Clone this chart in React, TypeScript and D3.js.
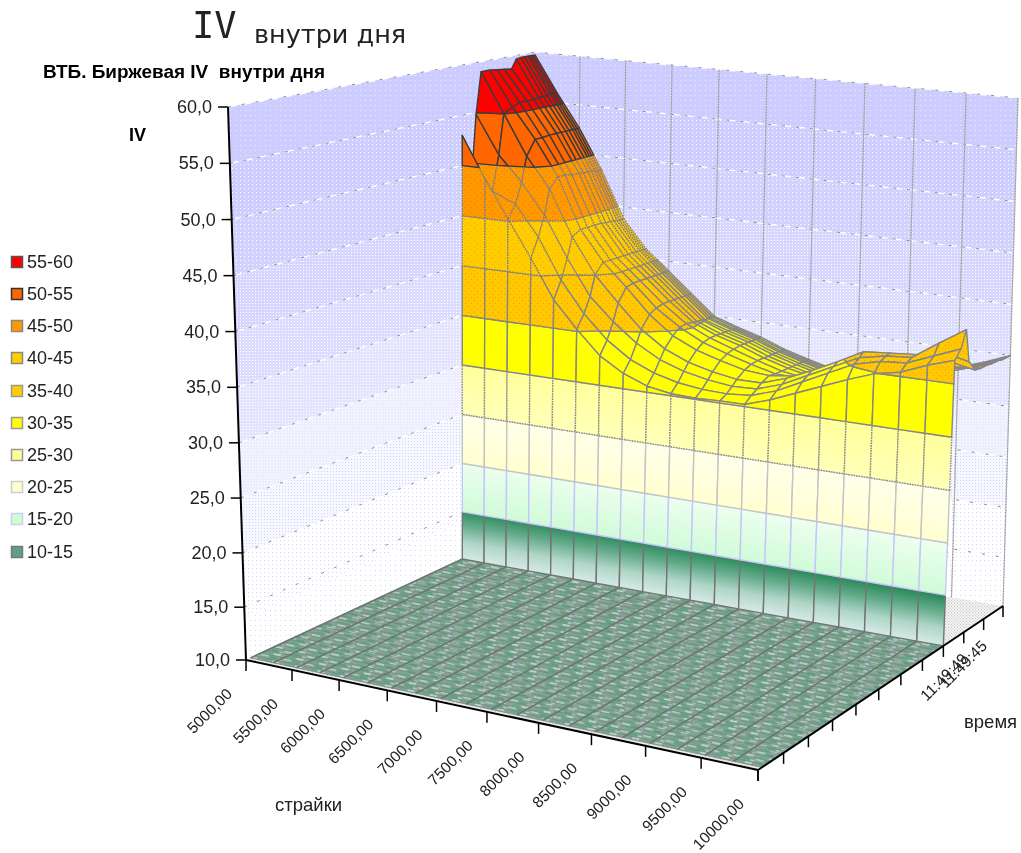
import React from "react";
import * as d3 from "d3";

// ---------- data ----------
const strikeTicks = [5000, 5500, 6000, 6500, 7000, 7500, 8000, 8500, 9000, 9500, 10000];
const meshStrikes = [5000, 5250, 5500, 5750, 6000, 6250, 6500, 6750, 7000, 7250, 7500, 7750, 8000, 8250, 8500, 8750, 9000, 9250, 9500, 9750, 10000];
const ivTicks = [10, 15, 20, 25, 30, 35, 40, 45, 50, 55, 60];
const timeTicks = [0, 1, 2, 3, 4, 5, 6, 7, 8, 9, 10, 11];
const timeLabels: [number, string][] = [[10, "11:49:49"], [11, "11:49:45"]];
const legendLabels = ["55-60", "50-55", "45-50", "40-45", "35-40", "30-35", "25-30", "20-25", "15-20", "10-15"];
const floorRows = [0.15, 0.3, 0.5, 0.7, 0.9, 1.1, 1.3, 1.5, 1.7, 1.9, 2.1, 2.3, 2.5, 2.7, 2.9, 3.1, 3.3, 3.5, 3.7, 3.9, 4.1, 4.3, 4.5, 4.7, 4.9, 5.1, 5.3, 5.5, 5.7, 5.9, 6.1, 6.3, 6.5, 6.7, 6.9, 7.1, 7.3, 7.5, 7.7, 8];

const surfaceTimes = [8, 8.3, 8.55, 8.75, 9.1, 9.4, 9.7, 10, 10.2, 10.4, 10.55, 10.7, 10.8, 10.9, 11];
const iv800 = [53, 48.9, 45.2, 41.6, 37.8, 35.2, 32.9, 31.5, 30.6, 30.2, 30.1, 30.2, 30.2, 31, 32, 33, 34, 34.9, 35.4, 36.4, 37.2];
const iv830 = [46, 47.5, 46.5, 43.5, 39.5, 36.5, 34.2, 32.6, 31.6, 31, 30.7, 30.6, 30.8, 31.6, 32.8, 34, 35.2, 35.8, 36, 37, 38];
const iv855 = [54.8, 51, 48.5, 45.5, 41.5, 38, 35.8, 34, 32.7, 31.9, 31.4, 31.1, 31.2, 32, 33.2, 34.4, 35.6, 36.1, 36.3, 38, 39.6];
const iv875 = [59, 55, 51, 48, 43.5, 40, 37.5, 35.2, 33.6, 32.6, 32, 31.6, 31.6, 32.4, 33.5, 34.7, 36, 36.2, 36.4, 37, 36.4];
const iv910 = [59, 55.5, 52.5, 49, 44, 41, 38.8, 36.4, 34.6, 33.5, 32.8, 32.2, 32, 32.3, 33, 33.8, 34.8, 35.2, 35.6, 35.8, 35.3];
const iv940 = [58.9, 55.8, 52.5, 49, 44, 41, 39, 36.8, 35.2, 34, 33.2, 32.5, 31.9, 31.8, 32.2, 32.8, 33.4, 34, 34.6, 35, 35.2];
const iv970 = [58.8, 55.8, 52.6, 48.8, 44, 41, 39, 37, 35.3, 34.2, 33.4, 32.6, 31.9, 31.5, 31.6, 32, 32.6, 33.2, 34, 34.6, 35.2];
const iv1000 = [58.7, 55.8, 52.6, 48.8, 44, 41, 39, 37, 35.2, 34.2, 33.5, 32.6, 31.9, 31.4, 31.2, 31.5, 32, 32.7, 33.5, 34.3, 35.1];
const iv1020 = [59.6, 55.9, 52.6, 48.7, 43.9, 41, 39, 37, 35.1, 34.2, 33.5, 32.6, 31.9, 31.3, 31.1, 31.3, 31.9, 32.6, 33.4, 34.2, 35.1];
const iv1040 = [59.7, 55.9, 52.6, 48.7, 43.9, 41, 39, 37, 35.1, 34.2, 33.5, 32.6, 31.9, 31.3, 31.1, 31.3, 31.8, 32.5, 33.3, 34.1, 35.1];
const iv1055 = [59.7, 56, 52.6, 48.7, 43.9, 41, 39, 37, 35, 34.2, 33.5, 32.6, 31.9, 31.3, 31, 31.2, 31.8, 32.5, 33.3, 34.1, 35];
const iv1070 = [59.7, 56, 52.6, 48.6, 43.8, 41, 39, 37, 35, 34.2, 33.5, 32.6, 31.9, 31.3, 31, 31.2, 31.8, 32.5, 33.2, 34, 35];
const iv1080 = [59.7, 56, 52.6, 48.6, 43.8, 41, 39, 37, 35, 34.2, 33.5, 32.6, 31.9, 31.3, 31, 31.2, 31.8, 32.5, 33.2, 34, 35];
const iv1090 = [59.7, 56, 52.6, 48.6, 43.8, 41, 39, 37, 35, 34.2, 33.5, 32.6, 31.9, 31.3, 31, 31.2, 31.8, 32.5, 33.2, 34, 35];
const iv1100 = [59.7, 56, 52.6, 48.6, 43.8, 41, 39, 37, 35, 34.2, 33.5, 32.6, 31.9, 31.3, 31, 31.2, 31.8, 32.5, 33.2, 34, 35];
const surfaceRows = [iv800, iv830, iv855, iv875, iv910, iv940, iv970, iv1000, iv1020, iv1040, iv1055, iv1070, iv1080, iv1090, iv1100];

const bandLimits = [10, 15, 20, 25, 30, 35, 40, 45, 50, 55, 60];
const bandFills = ["url(#g10)", "url(#g15)", "url(#g20)", "url(#g25)", "#ffff00", "url(#amber)", "url(#amber2)", "url(#orange)", "#ff6600", "#ff0000"];
const surfaceFills = ["#8fc4a8", "#d8ffd8", "#ffffd0", "#ffffa8", "#ffff00", "url(#amber)", "url(#amber2)", "url(#orange)", "#ff6600", "#ff0000"];
const bandStrokes = ["#747474", "#c6c6ff", "#c4c4c4", "#8c8c8c", "#868686", "#868686", "#808080", "#808080", "#3c3c3c", "#3c3c3c"];
const bandDashes = ["none", "none", "none", "1.6 1", "none", "none", "1.6 1", "1.6 1", "none", "none"];
const legendSwatch = ["#ff0000", "#ff6600", "#ff9900", "#ffcc00", "#ffcc00", "#ffff00", "#ffff99", "#ffffcc", "#ccffcc", "#5f9f88"];
const legendBorders = ["#555", "#333", "#888", "#888", "#999", "#999", "#999", "#ccc", "#ccf", "#777"];
const legendRows = [262, 294, 326, 358, 391, 423, 455, 487, 519, 552];

const wallShadeLimits = [10, 14, 20, 25, 30, 35, 40, 45, 50, 55, 60];
const wallShadeBase = ["#ffffff", "#ffffff", "#f7f7ff", "#eeeeff", "#e4e4ff", "#dcdcff", "#d6d6ff", "#d2d2ff", "#ceceff", "#ccccff"];
const wallShadeDot = ["#d4d4ff", "#d0d0ff", "#d0d0ff", "#ffffff", "#ffffff", "#ffffff", "#ffffff", "#ffffff", "#ffffff", "#eeeeff"];
const wallShadeStep = [5, 4, 3, 3, 3, 3, 3, 4, 4, 5];

// ---------- projection ----------
type Pt = [number, number];
const floorCorners: Pt[] = [[246, 660], [758, 770], [1003, 606], [533, 526]];
const topCorners: Pt[] = [[228, 107], [790, 169], [1018, 98], [535, 52]];

function homography(q: Pt[]) {
  const [[x0, y0], [x1, y1], [x2, y2], [x3, y3]] = q;
  const sx = x0 - x1 + x2 - x3, sy = y0 - y1 + y2 - y3;
  const dx1 = x1 - x2, dx2 = x3 - x2, dy1 = y1 - y2, dy2 = y3 - y2;
  const det = dx1 * dy2 - dx2 * dy1;
  const g = (sx * dy2 - dx2 * sy) / det, h = (dx1 * sy - sx * dy1) / det;
  return (u: number, v: number): Pt => {
    const w = 1 + g * u + h * v;
    return [
      (x0 + (x1 - x0 + g * x1) * u + (x3 - x0 + h * x3) * v) / w,
      (y0 + (y1 - y0 + g * y1) * u + (y3 - y0 + h * y3) * v) / w,
    ];
  };
}
const floorH = homography(floorCorners);
const topH = homography(topCorners);
const uScale = d3.scaleLinear().domain([5000, 10000]).range([0, 1]);
const vScale = d3.scaleLinear().domain([0, 11]).range([0, 1]);
const zScale = d3.scaleLinear().domain([10, 60]).range([0, 1]);

function proj(s: number, t: number, z: number): Pt {
  const u = uScale(s), v = vScale(t), f = Math.pow(zScale(z), 1.02);
  const a = floorH(u, v), b = topH(u, v);
  return [a[0] + (b[0] - a[0]) * f, a[1] + (b[1] - a[1]) * f];
}

type P3 = { s: number; t: number; z: number };
function clipZ(poly: P3[], level: number, keepAbove: boolean): P3[] {
  const out: P3[] = [];
  const inside = (p: P3) => (keepAbove ? p.z >= level : p.z <= level);
  poly.forEach((p, i) => {
    const q = poly[(i + 1) % poly.length];
    if (inside(p)) out.push(p);
    if (inside(p) !== inside(q)) {
      const k = (level - p.z) / (q.z - p.z);
      out.push({ s: p.s + (q.s - p.s) * k, t: p.t + (q.t - p.t) * k, z: level });
    }
  });
  return out;
}
const pathOf = d3.line<Pt>().x((d) => d[0]).y((d) => d[1]);
const closed = (pts: P3[]) => pathOf(pts.map((p) => proj(p.s, p.t, p.z)))! + "Z";
const seg = (a: P3, b: P3) => pathOf([proj(a.s, a.t, a.z), proj(b.s, b.t, b.z)])!;

function bandPolys(poly: P3[]) {
  const res: { d: string; i: number }[] = [];
  for (let i = 0; i < bandLimits.length - 1; i++) {
    let c = clipZ(poly, bandLimits[i], true);
    if (c.length) c = clipZ(c, bandLimits[i + 1], false);
    if (c.length > 2) res.push({ d: closed(c), i });
  }
  return res;
}

const S0 = strikeTicks[0], S1 = strikeTicks[strikeTicks.length - 1];
const T0 = timeTicks[0], T1 = timeTicks[timeTicks.length - 1];
const wallT = surfaceTimes[0];
const fmtStrike = (v: number) => d3.format(".2f")(v).replace(".", ",");
const fmtIv = (v: number) => d3.format(".1f")(v).replace(".", ",");

function gradVec(lo: number, hi: number) {
  const a = proj(S0, wallT, lo), b = proj(S1, wallT, lo);
  const dx = b[0] - a[0], dy = b[1] - a[1], len = Math.hypot(dx, dy);
  const nx = dy / len, ny = -dx / len;
  const m = proj(7500, wallT, lo), t = proj(7500, wallT, hi);
  const dist = (t[0] - m[0]) * nx + (t[1] - m[1]) * ny;
  return { x1: m[0], y1: m[1], x2: m[0] + nx * dist, y2: m[1] + ny * dist };
}

export default function App() {
  const wallBg: React.ReactElement[] = [];
  wallShadeBase.forEach((_, i) => {
    const lo = wallShadeLimits[i], hi = wallShadeLimits[i + 1];
    const left: P3[] = [{ s: S0, t: T0, z: lo }, { s: S0, t: T1, z: lo }, { s: S0, t: T1, z: hi }, { s: S0, t: T0, z: hi }];
    const right: P3[] = [{ s: S0, t: T1, z: lo }, { s: S1, t: T1, z: lo }, { s: S1, t: T1, z: hi }, { s: S0, t: T1, z: hi }];
    wallBg.push(<path key={i + "l"} d={closed(left)} fill={`url(#wp${i})`} stroke={wallShadeBase[i]} strokeWidth={0.3} />);
    wallBg.push(<path key={i + "r"} d={closed(right)} fill={`url(#wp${i})`} stroke={wallShadeBase[i]} strokeWidth={0.3} />);
  });

  const surfaceCells: React.ReactElement[] = [];
  for (let r = surfaceTimes.length - 2; r >= 0; r--) {
    for (let c = 0; c < meshStrikes.length - 1; c++) {
      const poly: P3[] = [
        { s: meshStrikes[c], t: surfaceTimes[r], z: surfaceRows[r][c] },
        { s: meshStrikes[c + 1], t: surfaceTimes[r], z: surfaceRows[r][c + 1] },
        { s: meshStrikes[c + 1], t: surfaceTimes[r + 1], z: surfaceRows[r + 1][c + 1] },
        { s: meshStrikes[c], t: surfaceTimes[r + 1], z: surfaceRows[r + 1][c] },
      ];
      bandPolys(poly).forEach((b, k) => {
        surfaceCells.push(
          <path key={`s${r}-${c}-${k}`} d={b.d} fill={surfaceFills[b.i]} stroke={bandStrokes[b.i]}
            strokeWidth={1.4} strokeDasharray={bandDashes[b.i]} strokeLinejoin="round" />
        );
      });
    }
  }
  const skirtCells: React.ReactElement[] = [];
  for (let c = 0; c < meshStrikes.length - 1; c++) {
    const poly: P3[] = [
      { s: meshStrikes[c], t: wallT, z: 10 },
      { s: meshStrikes[c + 1], t: wallT, z: 10 },
      { s: meshStrikes[c + 1], t: wallT, z: iv800[c + 1] },
      { s: meshStrikes[c], t: wallT, z: iv800[c] },
    ];
    bandPolys(poly).forEach((b, k) => {
      skirtCells.push(
        <path key={`w${c}-${k}`} d={b.d} fill={bandFills[b.i]} stroke={bandStrokes[b.i]}
          strokeWidth={1.4} strokeDasharray={bandDashes[b.i]} strokeLinejoin="round" />
      );
    });
  }

  const g10 = gradVec(10, 15), g15 = gradVec(15, 20), g20 = gradVec(20, 25), g25 = gradVec(25, 30);
  const userGrad = (id: string, v: any, stops: [number, string][]) => (
    <linearGradient id={id} gradientUnits="userSpaceOnUse" x1={v.x1} y1={v.y1} x2={v.x2} y2={v.y2}>
      {stops.map(([o, c]) => <stop key={o} offset={o} stopColor={c} />)}
    </linearGradient>
  );
  const dots = (id: string, size: number, base: string, dot: string, r = 1, extra?: [number, number]) => (
    <pattern key={id} id={id} patternUnits="userSpaceOnUse" width={size} height={size}>
      <rect width={size} height={size} fill={base} />
      <rect x={0} y={0} width={r} height={r} fill={dot} />
      {extra && <rect x={extra[0]} y={extra[1]} width={r} height={r} fill={dot} />}
    </pattern>
  );

  return (
    <svg width={1021} height={853} viewBox="0 0 1021 853"
      style={{ position: "absolute", left: 0, top: 0, display: "block", filter: "blur(0.5px)" }}
      fontFamily="'Liberation Sans', Arial, sans-serif">
      <defs>
        {wallShadeBase.map((b, i) => dots(`wp${i}`, wallShadeStep[i], b, wallShadeDot[i], 1))}
        {dots("amber", 6, "#ffc800", "#ff9900", 1, [3, 3])}
        {dots("amber2", 6, "#ffcc00", "#ffaa00", 1, [3, 3])}
        {dots("orange", 6, "#ff9900", "#ff7700", 1, [3, 3])}
        {dots("floorBack", 3, "#f2f2f2", "#c8c8c8", 1, [1.5, 1.5])}
        {userGrad("g10", g10, [[0, "#d6eae6"], [0.35, "#b0d6c8"], [0.7, "#62ab8a"], [1, "#2e8b5c"]])}
        {userGrad("g15", g15, [[0, "#d0fbd8"], [1, "#ecffee"]])}
        {userGrad("g20", g20, [[0, "#ffffd0"], [1, "#ffffea"]])}
        {userGrad("g25", g25, [[0, "#ffffb8"], [1, "#ffff9c"]])}
        <pattern id="floorTex" patternUnits="userSpaceOnUse" width={23} height={7.4} patternTransform="rotate(12)">
          <rect width={23} height={7.4} fill="#86a294" />
          <rect x={0} y={0} width={8} height={2} fill="#a8d2bc" />
          <rect x={10} y={1} width={7} height={2} fill="#4ea67c" />
          <rect x={18} y={2} width={4} height={2} fill="#a4ccd0" />
          <rect x={4} y={4} width={7} height={2} fill="#5cb088" />
          <rect x={13} y={4.6} width={7} height={2} fill="#b0d8c0" />
        </pattern>
      </defs>

      {/* walls */}
      {wallBg}
      {ivTicks.slice(1).map((z) => {
        const d = pathOf([proj(S0, T0, z), proj(S0, T1, z), proj(S1, T1, z)])!;
        return (
          <g key={z} fill="none">
            <path d={d} stroke="#ffffff" strokeWidth={1.4} strokeDasharray="9 5" />
            <path d={d} stroke="#8c8c8c" strokeWidth={1} strokeDasharray="3 11" />
          </g>
        );
      })}
      {strikeTicks.slice(1).map((s) => {
        const d = pathOf([proj(s, T1, 10), proj(s, T1, 60)])!;
        return (
          <g key={s} fill="none">
            <path d={d} stroke="#c0c0c0" strokeWidth={1.2} />
            <path d={d} stroke="#808080" strokeWidth={0.8} strokeDasharray="1.2 1.6" />
          </g>
        );
      })}
      <path d={closed([{ s: S0, t: T0, z: 10 }, { s: S1, t: T0, z: 10 }, { s: S1, t: T1, z: 10 }, { s: S0, t: T1, z: 10 }])} fill="url(#floorBack)" />

      {/* flat part of the surface */}
      <path d={closed([{ s: S0, t: floorRows[0], z: 10 }, { s: S1, t: floorRows[0], z: 10 }, { s: S1, t: wallT, z: 10 }, { s: S0, t: wallT, z: 10 }])} fill="url(#floorTex)" />
      {floorRows.map((t) => (
        <path key={t} d={seg({ s: S0, t, z: 10 }, { s: S1, t, z: 10 })} stroke="#7a8680" strokeWidth={0.9} opacity={0.9} fill="none" />
      ))}
      {meshStrikes.map((s) => (
        <path key={s} d={seg({ s, t: floorRows[0], z: 10 }, { s, t: wallT, z: 10 })} stroke="#6e7672" strokeWidth={1.7} fill="none" />
      ))}

      {/* lifted part of the surface, back to front */}
      {surfaceCells}
      {skirtCells}

      {/* axes */}
      <g stroke="#000" fill="none" strokeWidth={2}>
        <path d={seg({ s: S0, t: T0, z: 10 }, { s: S0, t: T0, z: 60 })} />
        <path d={seg({ s: S0, t: T0, z: 10 }, { s: S1, t: T0, z: 10 })} />
        <path d={seg({ s: S1, t: T0, z: 10 }, { s: S1, t: T1, z: 10 })} />
      </g>
      {ivTicks.map((z) => {
        const [x, y] = proj(S0, T0, z);
        return (
          <g key={z}>
            <line x1={x - 10} x2={x} y1={y} y2={y} stroke="#000" strokeWidth={1.5} />
            <text x={x - 16} y={y + 6} textAnchor="end" fontSize={18} fill="#222">{fmtIv(z)}</text>
          </g>
        );
      })}
      {strikeTicks.map((s) => {
        const [x, y] = proj(s, T0, 10);
        return (
          <g key={s}>
            <line x1={x} x2={x} y1={y} y2={y + 11} stroke="#000" strokeWidth={1.5} />
            <text transform={`translate(${x - 13},${y + 35}) rotate(-45)`} textAnchor="end" fontSize={15.5} fill="#222">{fmtStrike(s)}</text>
          </g>
        );
      })}
      {timeTicks.map((t) => {
        const [x, y] = proj(S1, t, 10);
        return <line key={t} x1={x} x2={x} y1={y} y2={y + 11} stroke="#000" strokeWidth={1.5} />;
      })}
      {timeLabels.map(([t, label]) => {
        const [x, y] = proj(S1, t, 10);
        return <text key={t} transform={`translate(${x - 15},${y + 41}) rotate(-45)`} textAnchor="end" fontSize={15.5} fill="#222">{label}</text>;
      })}

      {/* titles */}
      <text x={192} y={38} fontFamily="'DejaVu Sans Mono'" fontSize={37} fill="#222">IV</text>
      <text x={254} y={43} fontFamily="'DejaVu Sans'" fontSize={25.5} fill="#222">внутри дня</text>
      <text x={43} y={78} fontSize={18} fontWeight="bold" fill="#000" xmlSpace="preserve" style={{ whiteSpace: "pre" }} textLength={282} lengthAdjust="spacingAndGlyphs">ВТБ. Биржевая IV  внутри дня</text>
      <text x={129} y={141} fontSize={18} fontWeight="bold" fill="#000">IV</text>
      <text x={275} y={811} fontSize={18.5} fill="#222">страйки</text>
      <text x={964} y={728} fontSize={18.5} fill="#222">время</text>

      {/* legend */}
      {legendLabels.map((l, i) => {
        const y = legendRows[i];
        return (
          <g key={l}>
            <rect x={11.5} y={y - 5.5} width={11} height={11} fill={legendSwatch[i]} stroke={legendBorders[i]} strokeWidth={1.5} />
            <text x={27} y={y + 6} fontSize={18} fill="#222">{l}</text>
          </g>
        );
      })}
    </svg>
  );
}
